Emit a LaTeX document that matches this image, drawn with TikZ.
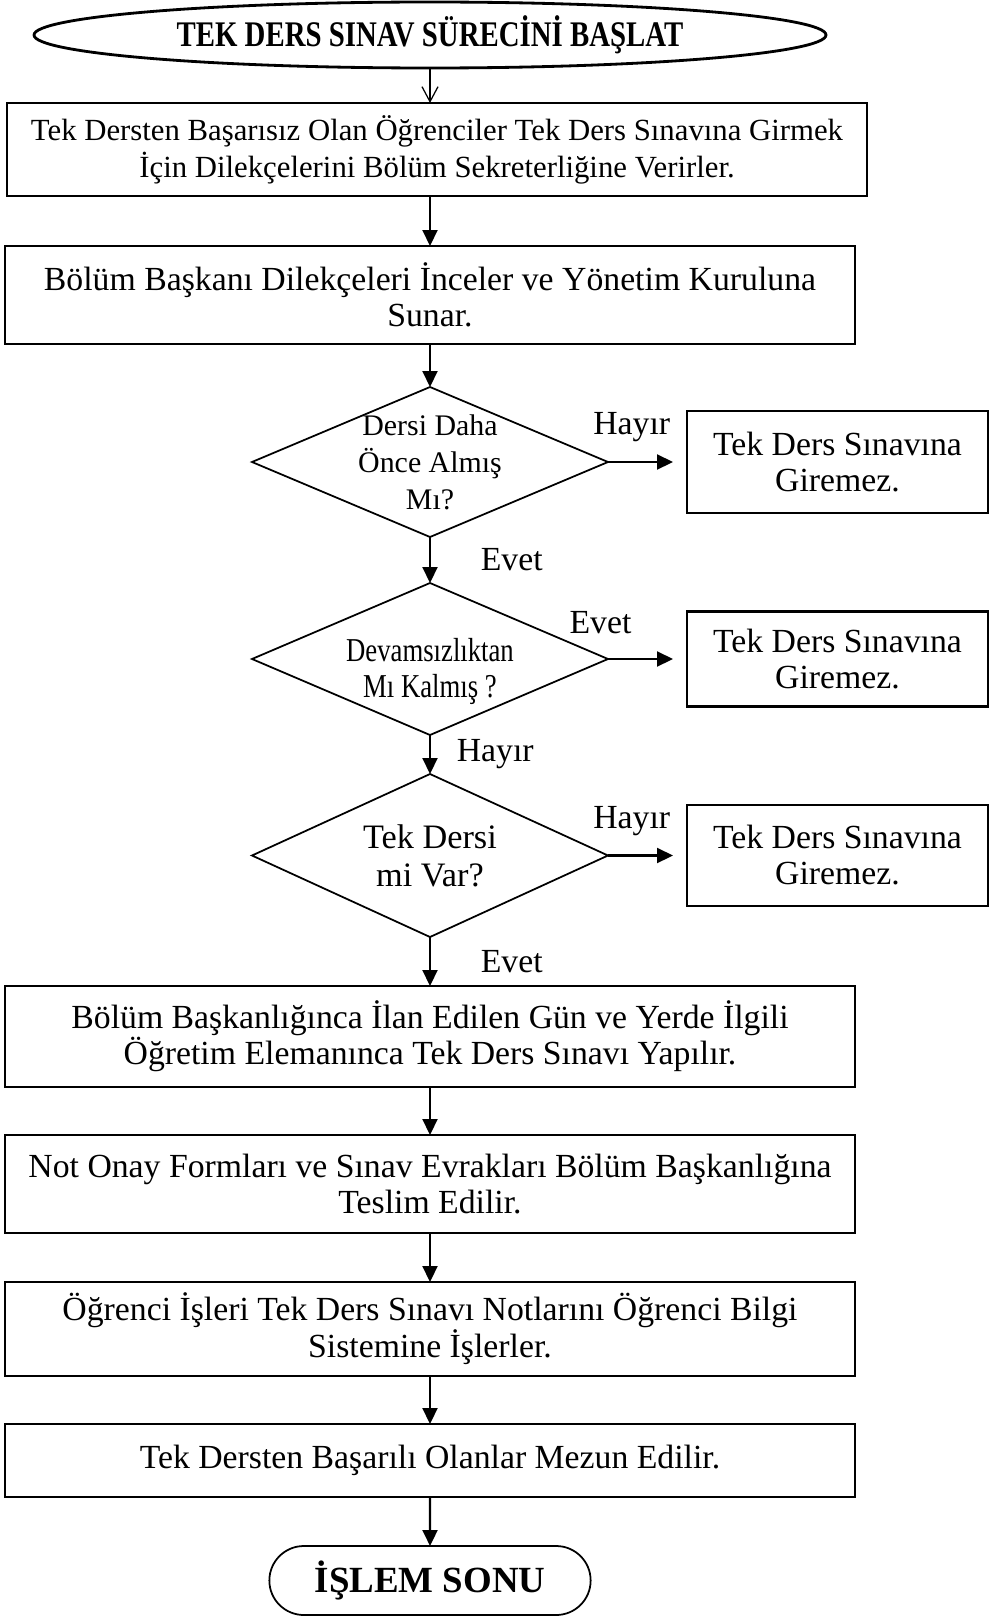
\documentclass[tikz,border=0pt]{standalone}
\usepackage{fontspec}
\setmainfont{Liberation Serif}
\newfontfamily\narrowserif[FakeStretch=0.8]{Liberation Serif}
\usepackage{tikz}
\usetikzlibrary{shapes,arrows.meta,positioning}

\begin{document}
\begin{tikzpicture}[
    node distance=1cm,
    every node/.style={outer sep=0pt},
    terminal/.style={ellipse, draw, line width=1.6pt, minimum width=15.84cm, minimum height=1.32cm, inner sep=0pt, font=\narrowserif\bfseries\fontsize{20.5}{23}\selectfont},
    endterm/.style={rounded rectangle, draw, line width=1pt, minimum width=6.66cm, minimum height=1.38cm, font=\bfseries\fontsize{21}{24}\selectfont},
    box/.style={rectangle, draw, line width=1.2pt, minimum width=17cm, align=center, font=\fontsize{19.2}{20.5}\selectfont},
    sidebox/.style={rectangle, draw, line width=1.2pt, minimum width=6.02cm, align=center, font=\fontsize{19.2}{20.5}\selectfont},
    decision/.style={diamond, draw, line width=1pt, minimum width=7.12cm, inner sep=0pt},
    dtext/.style={align=center, font=\fontsize{17}{21}\selectfont},
    lbl/.style={font=\fontsize{19.2}{21}\selectfont},
    arrow/.style={-{Triangle[length=3.2mm,width=3mm]}, line width=1.2pt},
    thinarrow/.style={-{Straight Barb[length=3mm,width=3.2mm]}, line width=0.7pt}
]
\useasboundingbox (0,0) rectangle (19.82,-32.36);

\node[terminal] (start) at (8.6,-0.7) {TEK DERS SINAV SÜRECİNİ BAŞLAT};
\node[box, minimum width=17.2cm, minimum height=1.86cm, font=\fontsize{17.5}{21}\selectfont, below=0.7cm of start, xshift=0.14cm] (dilekce) {Tek Dersten Başarısız Olan Öğrenciler Tek Ders Sınavına Girmek\\İçin Dilekçelerini Bölüm Sekreterliğine Verirler.};
\node[box, minimum height=1.96cm, below=1cm of dilekce, xshift=-0.14cm] (baskan) {Bölüm Başkanı Dilekçeleri İnceler ve Yönetim Kuruluna\\Sunar.};
\node[decision, minimum height=3cm, below=0.86cm of baskan, label={[dtext]center:{Dersi Daha\\Önce Almış\\Mı?}}] (almis) {};
\node[decision, minimum height=3.04cm, below=0.92cm of almis, label={[dtext, yshift=-0.25cm, font=\narrowserif\fontsize{19}{21}\selectfont]center:{Devamsızlıktan\\Mı Kalmış ?}}] (devam) {};
\node[decision, minimum height=3.26cm, below=0.78cm of devam, label={[dtext, font=\fontsize{19.5}{21.5}\selectfont]center:{Tek Dersi\\mi Var?}}] (tekders) {};
\node[sidebox, minimum height=2.04cm, right=1.58cm of almis] (red1) {Tek Ders Sınavına\\Giremez.};
\node[sidebox, minimum height=1.9cm, right=1.58cm of devam] (red2) {Tek Ders Sınavına\\Giremez.};
\node[sidebox, minimum height=2.02cm, right=1.58cm of tekders] (red3) {Tek Ders Sınavına\\Giremez.};
\node[box, minimum height=2.02cm, below=0.98cm of tekders] (sinav) {Bölüm Başkanlığınca İlan Edilen Gün ve Yerde İlgili\\Öğretim Elemanınca Tek Ders Sınavı Yapılır.};
\node[box, minimum height=1.96cm, below=0.96cm of sinav] (teslim) {Not Onay Formları ve Sınav Evrakları Bölüm Başkanlığına\\Teslim Edilir.};
\node[box, minimum height=1.88cm, font=\fontsize{19.2}{17.5}\selectfont, below=0.98cm of teslim] (obs) {Öğrenci İşleri Tek Ders Sınavı Notlarını Öğrenci Bilgi\\Sistemine İşlerler.};
\node[box, minimum height=1.46cm, below=0.96cm of obs] (mezun) {Tek Dersten Başarılı Olanlar Mezun Edilir.};
\node[endterm, below=0.98cm of mezun] (son) {İŞLEM SONU};

\draw[thinarrow] (start) -- (start |- dilekce.north);
\draw[arrow] (baskan |- dilekce.south) -- (baskan);
\draw[arrow] (baskan) -- (almis);
\draw[arrow] (almis) -- node[lbl, right=0.9cm] {Evet} (devam);
\draw[arrow] (devam) -- node[lbl, right=0.42cm] {Hayır} (tekders);
\draw[arrow] (tekders) -- node[lbl, right=0.9cm] {Evet} (sinav);
\draw[arrow, shorten >=0.28cm] (almis.east) -- node[lbl, pos=0.3, above=0.28cm] {Hayır} (red1.west);
\draw[arrow, shorten >=0.28cm] (devam.east) -- node[lbl, pos=0, above=0.38cm, xshift=-0.15cm] {Evet} (red2.west);
\draw[arrow, shorten >=0.28cm] (tekders.east) -- node[lbl, pos=0.3, above=0.28cm] {Hayır} (red3.west);
\draw[arrow] (sinav) -- (teslim);
\draw[arrow] (teslim) -- (obs);
\draw[arrow] (obs) -- (mezun);
\draw[arrow] (mezun) -- (son);
\end{tikzpicture}
\end{document}
